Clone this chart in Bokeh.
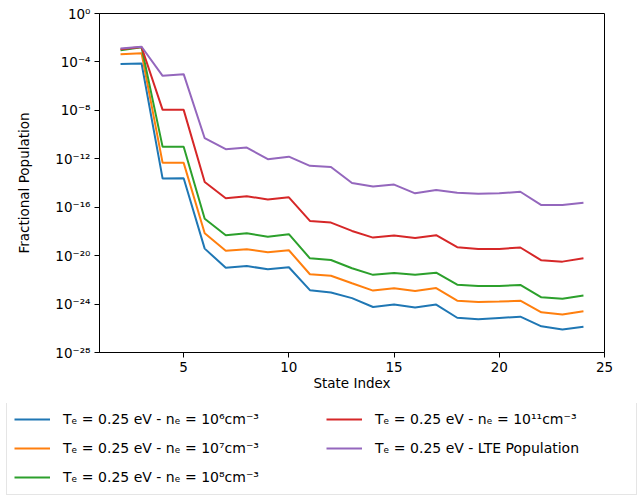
from bokeh.plotting import figure
from bokeh.layouts import column
from bokeh.models import (Legend, LegendItem, FixedTicker, CustomJSTickFormatter,
                          Range1d)
from bokeh.embed import file_html
from bokeh.resources import INLINE

# State indices and fractional populations for each electron density
state_index = list(range(2, 25))

pop_ne_1e6 = [6.6e-5, 7.4e-5, 2.3e-14, 2.5e-14, 3.8e-20, 1.0e-21, 1.4e-21, 7.4e-22,
              1.1e-21, 1.4e-23, 8.9e-24, 3.1e-24, 5.7e-25, 9.1e-25, 5.1e-25, 9.1e-25,
              7.4e-26, 5.6e-26, 7.2e-26, 9.1e-26, 1.45e-26, 8.1e-27, 1.35e-26]
pop_ne_1e7 = [4.4e-4, 5.2e-4, 4.6e-13, 4.6e-13, 7.1e-19, 2.5e-20, 3.4e-20, 1.9e-20,
              2.8e-20, 2.9e-22, 2.2e-22, 5.2e-23, 1.3e-23, 2.0e-23, 1.2e-23, 2.1e-23,
              1.9e-24, 1.5e-24, 1.6e-24, 1.9e-24, 2.1e-25, 1.4e-25, 2.5e-25]
pop_ne_1e8 = [9.3e-4, 1.6e-3, 9.7e-12, 9.7e-12, 1.1e-17, 4.9e-19, 7.1e-19, 3.7e-19,
              5.9e-19, 6.0e-21, 4.4e-21, 9.1e-22, 2.6e-22, 3.7e-22, 2.6e-22, 3.9e-22,
              4.0e-23, 3.1e-23, 3.1e-23, 3.8e-23, 3.6e-24, 2.8e-24, 5.0e-24]
pop_ne_1e11 = [1.1e-3, 1.7e-3, 1.1e-8, 1.1e-8, 1.2e-14, 5.5e-16, 8.1e-16, 4.3e-16,
               6.6e-16, 7.4e-18, 5.4e-18, 1.1e-18, 3.1e-19, 4.6e-19, 2.9e-19, 4.9e-19,
               5.0e-20, 3.6e-20, 3.6e-20, 4.7e-20, 4.1e-21, 3.2e-21, 6.0e-21]
pop_lte = [1.3e-3, 1.8e-3, 7.1e-6, 9.8e-6, 5.0e-11, 6.2e-12, 8.5e-12, 9.2e-13,
           1.5e-12, 2.6e-13, 2.1e-13, 1.0e-14, 5.1e-15, 7.4e-15, 1.4e-15, 2.6e-15,
           1.6e-15, 1.3e-15, 1.4e-15, 1.9e-15, 1.5e-16, 1.5e-16, 2.3e-16]

series_labels = [
    "Tₑ = 0.25 eV - nₑ = 10⁶cm⁻³",
    "Tₑ = 0.25 eV - nₑ = 10⁷cm⁻³",
    "Tₑ = 0.25 eV - nₑ = 10⁸cm⁻³",
    "Tₑ = 0.25 eV - nₑ = 10¹¹cm⁻³",
    "Tₑ = 0.25 eV - LTE Population",
]
series_values = [pop_ne_1e6, pop_ne_1e7, pop_ne_1e8, pop_ne_1e11, pop_lte]
colors = ["#1f77b4", "#ff7f0e", "#2ca02c", "#d62728", "#9467bd"]

x_ticks = [5, 10, 15, 20, 25]
y_ticks = [1e-28, 1e-24, 1e-20, 1e-16, 1e-12, 1e-8, 1e-4, 1e0]

FONT = "DejaVu Sans"
FS = "13.5px"

p = figure(width=644, height=403, y_axis_type="log",
           x_range=Range1d(1.0, 25.0), y_range=Range1d(1e-28, 1.0),
           output_backend="svg", toolbar_location=None,
           min_border_left=99, min_border_right=40, min_border_top=13,
           min_border_bottom=51)
p.frame_align = False

p.background_fill_color = "white"
p.border_fill_color = "white"
p.grid.visible = False
p.outline_line_color = "black"
p.outline_line_width = 1

for vals, col in zip(series_values, colors):
    p.line(state_index, vals, line_color=col, line_width=2)

# axes
for ax in (p.xaxis[0], p.yaxis[0]):
    ax.axis_line_color = "black"
    ax.major_tick_line_color = "black"
    ax.major_tick_out = 5
    ax.major_tick_in = 0
    ax.minor_tick_out = 0
    ax.minor_tick_in = 0
    ax.major_label_text_font = FONT
    ax.major_label_text_font_size = FS
    ax.major_label_text_color = "black"
    ax.axis_label_text_font = FONT
    ax.axis_label_text_font_size = FS
    ax.axis_label_text_font_style = "normal"
    ax.axis_label_text_color = "black"
    ax.major_label_standoff = 4

p.xaxis.axis_label_standoff = 0
p.yaxis.axis_label_standoff = 20

p.xaxis.ticker = FixedTicker(ticks=x_ticks)
p.yaxis.ticker = FixedTicker(ticks=y_ticks)
p.yaxis.formatter = CustomJSTickFormatter(code="""
    const sup = {"-": "\u207b", "0": "\u2070", "1": "\u00b9", "2": "\u00b2",
                 "3": "\u00b3", "4": "\u2074", "5": "\u2075", "6": "\u2076",
                 "7": "\u2077", "8": "\u2078", "9": "\u2079"};
    const e = Math.round(Math.log10(tick));
    return "10" + String(e).split("").map(c => sup[c]).join("");
""")
p.xaxis.axis_label = "State Index"
p.yaxis.axis_label = "Fractional Population"

# legend panel under the chart: two columns filled top to bottom
lg = figure(width=644, height=93, x_range=Range1d(0, 1), y_range=Range1d(0, 1),
            output_backend="svg", toolbar_location=None,
            x_axis_location=None, y_axis_location=None,
            min_border_left=0, min_border_right=0, min_border_top=0,
            min_border_bottom=0)
lg.frame_align = False
lg.grid.visible = False
lg.outline_line_color = None
lg.background_fill_color = "white"
lg.border_fill_color = "white"

items = []
for label, col in zip(series_labels, colors):
    r = lg.line([5, 6], [5, 6], line_color=col, line_width=2)
    items.append(LegendItem(label=label, renderers=[r]))

legend = Legend(items=items, orientation="vertical", nrows=3,
                location=(6, 1),
                label_text_font=FONT, label_text_font_size="14px",
                label_text_color="black",
                border_line_color="#cccccc", border_line_width=1,
                background_fill_color="white", background_fill_alpha=1.0,
                glyph_width=36, glyph_height=20, label_height=20,
                label_width=254, label_standoff=13, spacing=9,
                padding=7, margin=0)
lg.add_layout(legend, "center")

layout = column(p, lg, spacing=0)
open("out.html", "w").write(file_html(layout, INLINE))
